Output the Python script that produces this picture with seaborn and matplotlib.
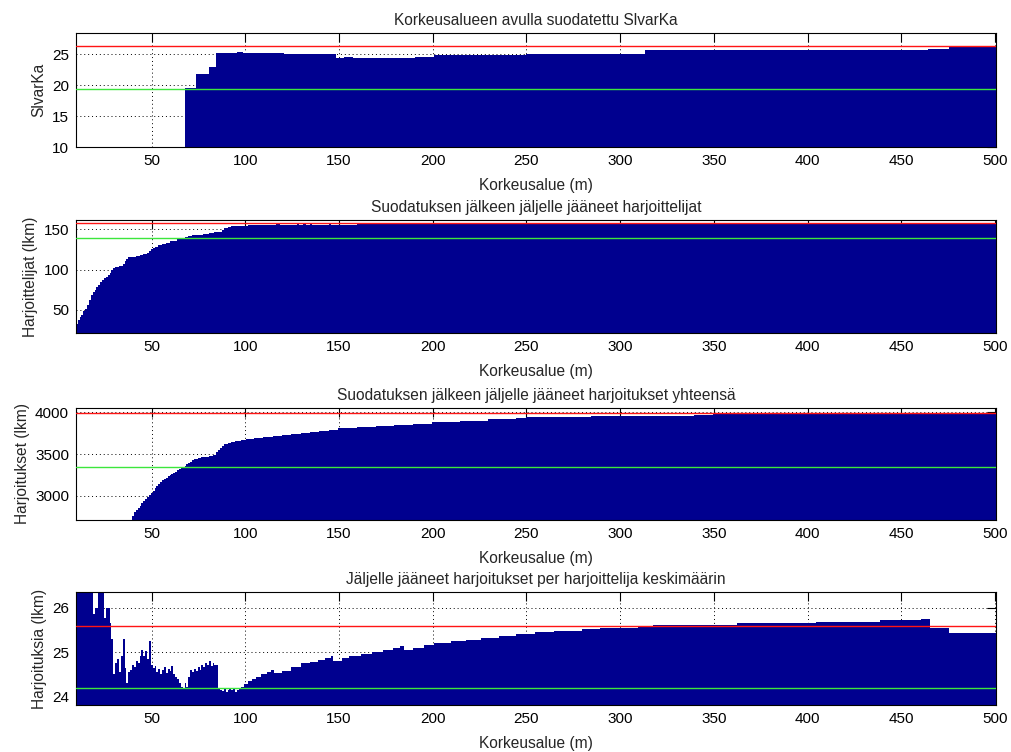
import numpy as np
import pandas as pd
import matplotlib
matplotlib.use("Agg")
import matplotlib.pyplot as plt
import seaborn as sns

# Height range bins (m), one bar per metre
heights = np.arange(10, 501)

# Each series is stored as runs: first height of a run and the level it holds
slvarka_start = [10, 68, 74, 81, 85, 96, 99, 121, 149, 153, 158, 179, 191, 201,
                 250, 314, 465, 476]
slvarka_level = [0, 19.6, 21.8, 22.9, 25.15, 25.3, 25.1, 24.95, 24.4, 24.55,
                 24.3, 24.4, 24.6, 24.85, 25.0, 25.6, 25.9, 26.3]

trainees_start = [10, 11, 12, 13, 14, 15, 16, 17, 18, 19, 20, 21, 22, 23, 24,
                  25, 26, 27, 28, 29, 30, 31, 33, 35, 36, 37, 38, 40, 42, 44,
                  46, 48, 49, 50, 51, 52, 54, 56, 58, 60, 62, 64, 66, 68, 70,
                  72, 75, 78, 81, 84, 86, 88, 89, 91, 93, 97, 102, 117, 119,
                  128, 129, 131, 133, 135, 136, 145, 146, 160, 186]
trainees_level = [33, 38, 41, 44, 48, 51, 56, 62, 68, 72, 75, 78, 81, 84, 87,
                  89, 91, 93, 96, 99, 102, 103, 104, 107, 110, 113, 115, 116,
                  117, 118, 119, 121, 123, 125, 127, 128, 130, 132, 133.5, 135,
                  136, 138, 139, 140.5, 141.5, 142.5, 143, 144, 145, 146, 147,
                  149, 151, 152.5, 153.5, 154.3, 155.2, 157, 155.4, 156.8,
                  155.5, 156.8, 155.5, 156.8, 155.6, 156.8, 155.7, 156.2, 157.6]

sessions_start = [10, 40, 41, 42, 43, 44, 45, 46, 47, 48, 49, 50, 51, 52, 53,
                  54, 55, 56, 57, 58, 59, 60, 61, 62, 63, 64, 65, 66, 67, 68,
                  69, 70, 71, 72, 73, 75, 77, 79, 81, 83, 85, 86, 87, 88, 89,
                  91, 93, 95, 98, 101, 105, 110, 115, 120, 125, 130, 135, 140,
                  145, 150, 160, 170, 180, 190, 200, 215, 230, 245, 250, 285,
                  340, 350, 420, 446, 480, 495]
sessions_level = [0, 2760, 2800, 2830, 2855, 2880, 2910, 2935, 2960, 2985,
                  3010, 3035, 3060, 3090, 3115, 3140, 3165, 3185, 3200, 3215,
                  3235, 3250, 3262, 3275, 3290, 3305, 3320, 3332, 3345, 3358,
                  3375, 3395, 3410, 3425, 3440, 3450, 3460, 3468, 3478, 3490,
                  3525, 3550, 3575, 3600, 3620, 3635, 3648, 3660, 3670, 3680,
                  3692, 3702, 3715, 3725, 3738, 3748, 3760, 3772, 3790, 3808,
                  3820, 3835, 3850, 3865, 3885, 3900, 3915, 3928, 3945, 3956,
                  3968, 3976, 3980, 3984, 3992, 3998]

per_trainee_start = [10, 19, 20, 22, 25, 26, 28, 29, 30, 31, 32, 33, 34, 35,
                     36, 37, 38, 39, 40, 41, 42, 43, 44, 45, 46, 47, 48, 49,
                     50, 51, 52, 53, 54, 55, 56, 57, 58, 59, 60, 61, 62, 63,
                     64, 65, 66, 67, 68, 69, 70, 71, 72, 73, 74, 75, 76, 77,
                     78, 79, 80, 81, 82, 83, 84, 85, 86, 87, 88, 89, 90, 91,
                     92, 93, 94, 95, 96, 97, 98, 100, 102, 104, 106, 109, 112,
                     114, 116, 120, 125, 130, 135, 139, 143, 146, 147, 152,
                     156, 162, 168, 174, 179, 183, 185, 190, 196, 201, 210,
                     218, 226, 236, 245, 255, 265, 280, 290, 300, 310, 318,
                     363, 405, 439, 461, 466, 476]
per_trainee_level = [26.6, 25.85, 25.99, 26.6, 25.76, 25.98, 25.65, 25.3, 24.5,
                     24.75, 24.85, 24.55, 24.9, 25.3, 24.65, 24.3, 24.55, 24.6,
                     24.7, 24.66, 24.8, 24.75, 24.9, 25.05, 24.9, 25.02, 24.85,
                     25.25, 24.7, 24.64, 24.68, 24.55, 24.62, 24.5, 24.6, 24.66,
                     24.52, 24.62, 24.58, 24.68, 24.5, 24.45, 24.4, 24.3, 24.22,
                     24.2, 24.3, 24.22, 24.45, 24.6, 24.55, 24.62, 24.58, 24.66,
                     24.6, 24.7, 24.66, 24.75, 24.72, 24.8, 24.68, 24.75, 24.72,
                     24.7, 24.17, 24.15, 24.12, 24.18, 24.1, 24.15, 24.2, 24.14,
                     24.18, 24.1, 24.15, 24.2, 24.22, 24.28, 24.35, 24.4, 24.45,
                     24.5, 24.56, 24.6, 24.53, 24.58, 24.66, 24.75, 24.78,
                     24.82, 24.86, 24.9, 24.81, 24.86, 24.92, 24.96, 25.0,
                     25.05, 25.1, 25.14, 25.05, 25.1, 25.15, 25.2, 25.24,
                     25.28, 25.32, 25.37, 25.41, 25.44, 25.47, 25.51, 25.53,
                     25.55, 25.58, 25.6, 25.65, 25.68, 25.71, 25.74, 25.55,
                     25.42]

# Reference levels drawn across each panel (upper red, lower green)
upper_ref = [26.35, 157.5, 3998, 25.59]
lower_ref = [19.35, 138.8, 3340, 24.19]

titles = [
    "Korkeusalueen avulla suodatettu SlvarKa",
    "Suodatuksen jälkeen jäljelle jääneet harjoittelijat",
    "Suodatuksen jälkeen jäljelle jääneet harjoitukset yhteensä",
    "Jäljelle jääneet harjoitukset per harjoittelija keskimäärin",
]
ylabels = ["SlvarKa", "Harjoittelijat (lkm)", "Harjoitukset (lkm)",
           "Harjoituksia (lkm)"]
xlabel = "Korkeusalue (m)"
xticks = [50, 100, 150, 200, 250, 300, 350, 400, 450, 500]
yticks = [[10, 15, 20, 25], [50, 100, 150], [3000, 3500, 4000], [24, 25, 26]]
ylims = [(10, 28.4), (21.3, 161.5), (2709, 4053), (23.81, 26.35)]


def runs_to_heights(starts, levels):
    lengths = np.diff(np.append(starts, heights[-1] + 1))
    return np.repeat(np.asarray(levels, dtype=float), lengths)


series = [
    runs_to_heights(slvarka_start, slvarka_level),
    runs_to_heights(trainees_start, trainees_level),
    runs_to_heights(sessions_start, sessions_level),
    runs_to_heights(per_trainee_start, per_trainee_level),
]

sns.set_style("white")
plt.rcParams["font.family"] = ["Liberation Sans", "DejaVu Sans"]
plt.rcParams["font.size"] = 11

NAVY = "#00008F"
RED = "#FF1414"
GREEN = "#3CE63C"
TEXT_SIZE = 11.2
TICK_SIZE = 11

fig = plt.figure(figsize=(10.11, 7.52), dpi=100)
fig.patch.set_facecolor("white")

# [left, bottom, width, height] in figure fractions
boxes = [
    [0.0752, 0.8045, 0.9100, 0.1516],
    [0.0752, 0.5572, 0.9100, 0.1503],
    [0.0752, 0.3085, 0.9100, 0.1490],
    [0.0752, 0.0625, 0.9100, 0.1503],
]

for i in range(4):
    ax = fig.add_axes(boxes[i])
    df = pd.DataFrame({"korkeus": heights, "arvo": series[i]})
    sns.barplot(data=df, x="korkeus", y="arvo", native_scale=True, orient="x",
                width=1.0, color=NAVY, saturation=1, errorbar=None,
                linewidth=0, ax=ax)
    for bar in ax.patches:
        bar.set_antialiased(False)
        bar.set_edgecolor("none")
    ax.axhline(upper_ref[i], color=RED, linewidth=1.0, zorder=3)
    ax.axhline(lower_ref[i], color=GREEN, linewidth=1.0, zorder=3)

    ax.set_xlim(9.6, 500.6)
    ax.set_ylim(*ylims[i])
    ax.set_xticks(xticks)
    ax.set_yticks(yticks[i])
    ax.set_axisbelow(True)
    ax.grid(True, color="black", linestyle=(0, (1, 3)), linewidth=0.7)
    ax.tick_params(direction="in", top=True, right=True, length=6.5,
                   width=0.8, labelsize=TICK_SIZE, pad=5, colors="black")
    for sp in ax.spines.values():
        sp.set_visible(True)
        sp.set_color("black")
        sp.set_linewidth(0.8)
    ax.set_title(titles[i], fontsize=TEXT_SIZE, pad=6)
    ax.set_xlabel(xlabel, fontsize=TEXT_SIZE, labelpad=7)
    ax.set_ylabel(ylabels[i], fontsize=TEXT_SIZE, labelpad=4)

fig.savefig("out.png", dpi=100, facecolor="white")
